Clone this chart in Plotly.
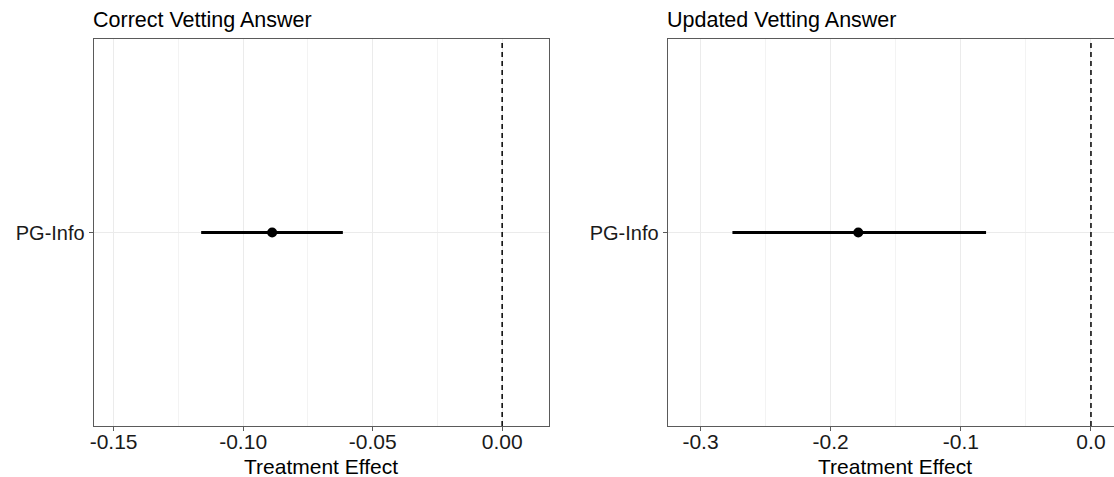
import plotly.graph_objects as go

categories = ["PG-Info"]
titles = ["Correct Vetting Answer", "Updated Vetting Answer"]

left_est = [-0.0888]
left_lo = [-0.1162]
left_hi = [-0.0615]
left_ticks = [-0.15, -0.10, -0.05, 0.00]
left_ticktext = ["-0.15", "-0.10", "-0.05", "0.00"]
left_range = [-0.1577, 0.0181]

right_est = [-0.1788]
right_lo = [-0.2755]
right_hi = [-0.0806]
right_ticks = [-0.3, -0.2, -0.1, 0.0]
right_ticktext = ["-0.3", "-0.2", "-0.1", "0.0"]
right_range = [-0.3253, 0.0177]

W, H = 1114, 477
FONT = "Liberation Sans, Arial, sans-serif"
BORDER = "#5a5a5a"

fig = go.Figure()

panels = [
    (left_est, left_lo, left_hi, "x", "y"),
    (right_est, right_lo, right_hi, "x2", "y2"),
]
for est, lo, hi, xa, ya in panels:
    fig.add_trace(go.Scatter(
        x=est, y=categories, xaxis=xa, yaxis=ya, mode="markers",
        marker=dict(color="black", size=10),
        error_x=dict(type="data", symmetric=False,
                     array=[h - e for h, e in zip(hi, est)],
                     arrayminus=[e - l for e, l in zip(est, lo)],
                     color="black", thickness=3, width=0),
        showlegend=False, hoverinfo="skip"))

def xaxis_cfg(dom, rng, tv, tt, mirror):
    return dict(domain=dom, range=rng, tickvals=tv, ticktext=tt,
                showgrid=True, gridcolor="#ebebeb", gridwidth=1,
                minor=dict(dtick=(tv[1] - tv[0]) / 2, tick0=tv[0], showgrid=True,
                           gridcolor="#f3f3f3", gridwidth=1, ticks=""),
                zeroline=False, showline=True, linecolor=BORDER, linewidth=1,
                mirror=mirror, ticks="outside", ticklen=4, tickcolor=BORDER,
                ticklabelstandoff=-7,
                tickfont=dict(family=FONT, size=21, color="#1a1a1a"))

def yaxis_cfg(dom, anchor, mirror):
    return dict(domain=dom, anchor=anchor, type="category", range=[-0.6, 0.6],
                showgrid=True, gridcolor="#ebebeb", gridwidth=1,
                zeroline=False, showline=True, linecolor=BORDER, linewidth=1,
                mirror=mirror, ticks="outside", ticklen=4, tickcolor=BORDER,
                tickfont=dict(family=FONT, size=20, color="#1a1a1a"))

ydom = [(H - 426) / H, (H - 39) / H]
xdom1 = [90 / W, 547 / W]
xdom2 = [666 / W, 1.0]

fig.update_layout(
    width=W, height=H, margin=dict(l=0, r=0, t=0, b=0),
    paper_bgcolor="white", plot_bgcolor="white",
    xaxis=dict(**xaxis_cfg(xdom1, left_range, left_ticks, left_ticktext, True), anchor="y"),
    yaxis=yaxis_cfg(ydom, "x", True),
    xaxis2=dict(**xaxis_cfg(xdom2, right_range, right_ticks, right_ticktext, True), anchor="y2"),
    yaxis2=yaxis_cfg(ydom, "x2", False),
)

for xa, ya in [("x", "y"), ("x2", "y2")]:
    fig.add_shape(type="line", xref=xa, yref=ya + " domain", x0=0, x1=0, y0=0, y1=1,
                  line=dict(color="black", width=1.5, dash="5px,4px"))

# panel titles
for t, dom in zip(titles, [xdom1, xdom2]):
    fig.add_annotation(text=t, xref="paper", yref="paper", x=dom[0] - 3 / W, y=1 - 34 / H,
                       xanchor="left", yanchor="bottom", showarrow=False,
                       font=dict(family=FONT, size=21.5, color="black"))

# axis titles
for cx in [(90 + 547) / 2, (666 + 1123) / 2]:
    fig.add_annotation(text="Treatment Effect", xref="paper", yref="paper",
                       x=cx / W, y=1 - 453 / H, xanchor="center", yanchor="top",
                       showarrow=False, font=dict(family=FONT, size=21, color="black"))

fig.write_html("out.html", config={"displayModeBar": False},
               post_script="document.body.style.margin='0';")
